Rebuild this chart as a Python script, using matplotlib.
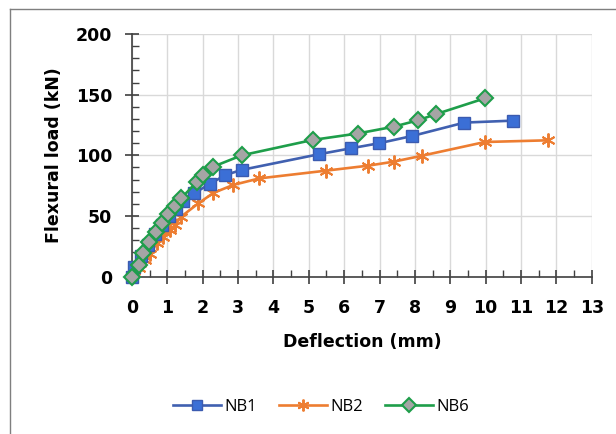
import matplotlib
matplotlib.use('Agg')
from matplotlib import pyplot as plt
from matplotlib.ticker import MultipleLocator
from matplotlib.lines import Line2D

# deflection (mm) / load (kN)
nb1_x = [0, 0.05, 0.25, 0.45, 0.65, 0.85, 1.05, 1.25, 1.45, 1.75, 2.2, 2.64, 3.1, 5.3, 6.19, 6.99, 7.93, 9.4, 10.77]
nb1_y = [0, 8, 17, 26, 35, 43, 50, 56, 62, 68.7, 76.4, 83.8, 88, 101, 105.8, 110, 116, 127, 128.6]
nb2_x = [0, 0.2, 0.37, 0.51, 0.7, 0.89, 1.07, 1.22, 1.39, 1.88, 2.3, 2.86, 3.6, 5.49, 6.68, 7.4, 8.2, 9.98, 11.77]
nb2_y = [0, 7, 13.7, 19, 27.5, 33, 38.5, 42.6, 49.5, 60.5, 69, 75.6, 81, 87.4, 91.5, 94.8, 99.7, 111, 112.4]
nb6_x = [0, 0.19, 0.32, 0.49, 0.68, 0.84, 1.03, 1.22, 1.39, 1.83, 2.0, 2.3, 3.1, 5.11, 6.38, 7.4, 8.1, 8.6, 9.98]
nb6_y = [0, 9.6, 19.3, 28.8, 37, 44, 52, 58, 64.6, 78, 83.8, 90.7, 100, 112.7, 118, 123.6, 129, 134, 147]
labels = ['NB1', 'NB2', 'NB6']

plt.rcParams['font.family'] = ['DejaVu Sans']

fig = plt.figure(figsize=(6.16, 4.34), dpi=100)
ax = fig.add_axes([132/616, 1-276.7/434, (591.7-132)/616, (276.7-34)/434])

blue = '#4060B0'
orange = '#ED7D31'
green = '#1E9E4A'
nb1_style = dict(color=blue, lw=1.9, marker='s', ms=8.5, mfc='#3B6FD6', mec='#3B5BB0', mew=1)
nb2_style = dict(color=orange, lw=1.9, marker=(6, 2, 0), ms=10, mec=orange, mew=1.4)
nb6_style = dict(color=green, lw=1.9, marker='D', ms=8, mfc='#A5A5A5', mec=green, mew=1.5)

ax.plot(nb1_x, nb1_y, zorder=3, clip_on=False, **nb1_style)
ax.plot(nb2_x, nb2_y, zorder=2, clip_on=False, **nb2_style)
ax.plot(nb6_x, nb6_y, zorder=4, clip_on=False, **nb6_style)

ax.set_xlim(0, 13)
ax.set_ylim(0, 200)
ax.xaxis.set_major_locator(MultipleLocator(1))
ax.xaxis.set_minor_locator(MultipleLocator(0.5))
ax.yaxis.set_major_locator(MultipleLocator(50))
ax.yaxis.set_minor_locator(MultipleLocator(10))
ax.grid(True, which='major', color='#D9D9D9', lw=1)
ax.set_axisbelow(True)
for s in ['top', 'right']:
    ax.spines[s].set_visible(False)
for s in ['left', 'bottom']:
    ax.spines[s].set_color('#404040')
    ax.spines[s].set_linewidth(1.2)
ax.tick_params(which='major', direction='inout', length=9.5, width=1.2, color='#404040', labelsize=12.5)
ax.tick_params(axis='x', which='major', pad=11)
ax.tick_params(axis='y', which='major', pad=9.5)
ax.tick_params(which='minor', direction='in', length=5, width=1, color='#404040')
for t in ax.get_xticklabels() + ax.get_yticklabels():
    t.set_fontweight('bold')
ax.set_xlabel('Deflection (mm)', fontsize=12.5, fontweight='bold', labelpad=12)
ax.set_ylabel('Flexural load (kN)', fontsize=12.5, fontweight='bold', labelpad=9)

handles = [Line2D([], [], **nb1_style), Line2D([], [], **nb2_style), Line2D([], [], **nb6_style)]
fig.legend(handles, labels, loc='center', bbox_to_anchor=(0.521, 1-407/434), ncol=3,
           frameon=False, prop={'family': 'Open Sans', 'size': 12}, markerscale=0.85,
           handlelength=2.9, columnspacing=1.3, handletextpad=0.2)

# chart border
fig.add_artist(Line2D([10/616, 10/616], [0, 1-9/434], color='#7F7F7F', lw=1))
fig.add_artist(Line2D([10/616, 1], [1-9/434, 1-9/434], color='#7F7F7F', lw=1))

fig.savefig('out.png', dpi=100)
